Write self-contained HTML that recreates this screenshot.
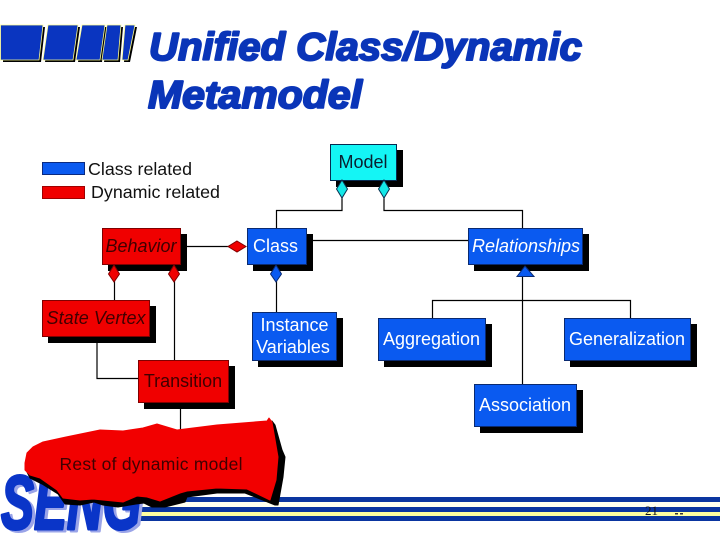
<!DOCTYPE html>
<html>
<head>
<meta charset="utf-8">
<style>
html,body{margin:0;padding:0;background:#fff;}
svg{display:block;}
text{font-family:"Liberation Sans",sans-serif;}
</style>
</head>
<body>
<svg width="720" height="540" viewBox="0 0 720 540" xmlns="http://www.w3.org/2000/svg">
<rect width="720" height="540" fill="#fff"/>

<!-- logo bars -->
<g fill="#000">
<polygon points="3,27 45,27 41,62 3,62"/>
<polygon points="50,27 80,27 75,62 45,62"/>
<polygon points="84,27 107,27 102,62 78,62"/>
<polygon points="109,27 123,27 120,62 104,62"/>
<polygon points="127,27 137,27 130,62 124,62"/>
</g>
<g fill="#0a35c0" stroke="#ffff90" stroke-width="0.8">
<polygon points="0.500,25 43,25 39,60 0.500,60"/>
<polygon points="48,25 78,25 73,60 43,60"/>
<polygon points="82,25 105,25 100,60 76,60"/>
<polygon points="107,25 121,25 118,60 102,60"/>
<polygon points="125,25 135,25 128,60 122,60"/>
</g>

<!-- title -->
<g fill="#0a35b8" stroke="#0a35b8" stroke-width="2" stroke-linejoin="round" font-weight="bold" font-style="italic" font-size="39">
<text x="149" y="60" textLength="433" lengthAdjust="spacingAndGlyphs">Unified Class/Dynamic</text>
<text x="148" y="108" textLength="214" lengthAdjust="spacingAndGlyphs">Metamodel</text>
</g>

<!-- footer bars -->
<rect x="140" y="502" width="580" height="5" fill="#fffff0"/>
<rect x="140" y="512" width="580" height="4" fill="#ffffa0"/>
<g fill="#0a35a0">
<rect x="140" y="497" width="580" height="5"/>
<rect x="140" y="507" width="580" height="5"/>
<rect x="140" y="516" width="580" height="5"/>
</g>

<!-- SENG logo -->
<g font-weight="bold" font-style="italic" font-size="76" stroke-linejoin="round">
<text x="4" y="531" fill="#9aa4e8" stroke="#9aa4e8" stroke-width="3" textLength="140" lengthAdjust="spacingAndGlyphs">SENG</text>
<text x="1" y="529" fill="#0a35c8" stroke="#0a35c8" stroke-width="3" textLength="140" lengthAdjust="spacingAndGlyphs">SENG</text>
</g>

<text x="645" y="515" style="font-family:'Liberation Serif',serif" font-size="13" fill="#111">21</text>
<rect x="675" y="513" width="3" height="1.500" fill="#333"/>
<rect x="680" y="513" width="3" height="1.500" fill="#333"/>

<!-- legend -->
<rect x="42.500" y="162.500" width="42" height="12" fill="#0a5af0" stroke="#0a2a80"/>
<rect x="42.500" y="186.500" width="42" height="12" fill="#f00000" stroke="#a00000"/>
<text x="88" y="175" font-size="17.500" fill="#111" textLength="104" lengthAdjust="spacingAndGlyphs">Class related</text>
<text x="91" y="198" font-size="17.500" fill="#111" textLength="129" lengthAdjust="spacingAndGlyphs">Dynamic related</text>

<!-- connectors -->
<g fill="none" stroke="#000" stroke-width="1.200">
<path d="M342 190V210.500H276.500V228"/>
<path d="M384 190V210.500H522.500V228"/>
<path d="M313 240.500H468"/>
<path d="M187 246.500H230"/>
<path d="M114.500 280V300"/>
<path d="M174.500 280V360"/>
<path d="M276.500 280V312"/>
<path d="M97 342V378.500H138"/>
<path d="M522.500 276V384"/>
<path d="M432.500 318V300.500H630.500V318"/>
<path d="M180.500 408V432"/>
</g>

<!-- box shadows -->
<g fill="#000">
<rect x="336" y="150" width="67" height="37"/>
<rect x="108" y="234" width="79" height="37"/>
<rect x="253" y="234" width="60" height="37"/>
<rect x="474" y="234" width="115" height="37"/>
<rect x="48" y="306" width="108" height="37"/>
<rect x="258" y="318" width="85" height="49"/>
<rect x="384" y="324" width="108" height="43"/>
<rect x="570" y="324" width="127" height="43"/>
<rect x="480" y="390" width="103" height="43"/>
<rect x="144" y="366" width="91" height="43"/>
</g>

<!-- boxes -->
<rect x="330.500" y="144.500" width="66" height="36" fill="#14f5f5" stroke="#062a50"/>
<g fill="#f00000" stroke="#800000">
<rect x="102.500" y="228.500" width="78" height="36"/>
<rect x="42.500" y="300.500" width="107" height="36"/>
<rect x="138.500" y="360.500" width="90" height="42"/>
</g>
<g fill="#0a5af0" stroke="#0a2a70">
<rect x="247.500" y="228.500" width="59" height="36"/>
<rect x="468.500" y="228.500" width="114" height="36"/>
<rect x="252.500" y="312.500" width="84" height="48"/>
<rect x="378.500" y="318.500" width="107" height="42"/>
<rect x="564.500" y="318.500" width="126" height="42"/>
<rect x="474.500" y="384.500" width="102" height="42"/>
</g>

<!-- diamonds -->
<g stroke="#0a3050" stroke-width="1" fill="#14e8e8">
<polygon points="342,180 347.500,189 342,198 336.500,189"/>
<polygon points="384,180 389.500,189 384,198 378.500,189"/>
</g>
<g stroke="#800000" stroke-width="1" fill="#f00000">
<polygon points="237,241 246,246.500 237,252 228,246.500"/>
<polygon points="114,265 119.500,274 114,282 108.500,274"/>
<polygon points="174,265 179.500,274 174,282 168.500,274"/>
</g>
<polygon points="276,265 281.500,274 276,282 270.500,274" fill="#0a5af0" stroke="#0a2a70"/>
<polygon points="525,266 534,276.500 517,276.500" fill="#0a5af0" stroke="#0a2a70"/>

<!-- box labels -->
<g font-size="18" text-anchor="middle">
<text x="363" y="168" fill="#0a2030">Model</text>
<text x="141" y="252" fill="#400000" font-style="italic">Behavior</text>
<text x="96" y="324" fill="#400000" font-style="italic" textLength="99" lengthAdjust="spacing">State Vertex</text>
<text x="183" y="387" fill="#400000">Transition</text>
</g>
<g font-size="18" fill="#ffffff" text-anchor="middle">
<text x="275.500" y="252">Class</text>
<text x="526" y="252" font-style="italic">Relationships</text>
<text x="294.500" y="331">Instance</text>
<text x="293" y="353">Variables</text>
<text x="431.500" y="345">Aggregation</text>
<text x="627" y="345">Generalization</text>
<text x="525" y="411">Association</text>
</g>

<!-- blob shadow + blob -->
<path d="M25,468 L30,478 L42,484 L58,494 L65,504 L80,505 L94,502 L103,505 L118,507 L136,504 L144,503 L152,507 L165,507 L185,502 L187,497 L217,493 L245,493 L275,505 L278,505 L283,477 L285,457 L282,450 L275,425 L272,421 L267,440 L60,440 Z" fill="#000" stroke="#000" stroke-width="1" stroke-linejoin="round"/>
<path d="M25,463 L27,453 L33,447 L43,442 L66,437 L100,430 L123,431 L143,428 L157,424 L177,430 L217,425 L267,421 L269,418 L272,422 L278,457 L276,480 L270,500 L247,489 L217,488 L187,491 L180,493 L160,501 L147,497 L137,496 L123,502 L93,499 L80,500 L63,498 L57,490 L40,478 L30,475 L25,470 Z" fill="#f20000" stroke="#f20000" stroke-width="1" stroke-linejoin="round"/>
<text x="151" y="470" font-size="17.500" fill="#400000" text-anchor="middle" textLength="183" lengthAdjust="spacing">Rest of dynamic model</text>
</svg>
</body>
</html>
